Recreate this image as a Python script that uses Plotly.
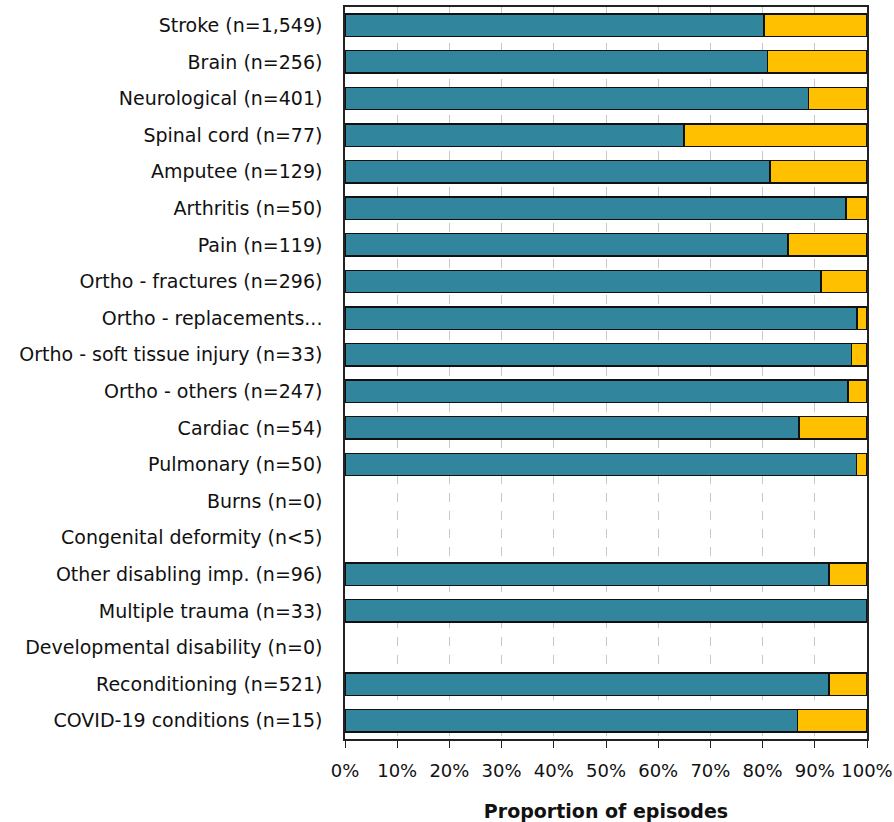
import plotly.graph_objects as go

categories = [
    "Stroke (n=1,549)", "Brain (n=256)", "Neurological (n=401)", "Spinal cord (n=77)",
    "Amputee (n=129)", "Arthritis (n=50)", "Pain (n=119)", "Ortho - fractures (n=296)",
    "Ortho - replacements...", "Ortho - soft tissue injury (n=33)", "Ortho - others (n=247)",
    "Cardiac (n=54)", "Pulmonary (n=50)", "Burns (n=0)", "Congenital deformity (n<5)",
    "Other disabling imp. (n=96)", "Multiple trauma (n=33)", "Developmental disability (n=0)",
    "Reconditioning (n=521)", "COVID-19 conditions (n=15)",
]
share_a = [80.3, 80.9, 88.8, 64.9, 81.4, 96.0, 84.9, 91.2, 98.1, 97.0, 96.4,
           87.0, 98.0, None, None, 92.7, 100.0, None, 92.7, 86.7]
share_b = [19.7, 19.1, 11.2, 35.1, 18.6, 4.0, 15.1, 8.8, 1.9, 3.0, 3.6,
           13.0, 2.0, None, None, 7.3, 0.0, None, 7.3, 13.3]
tick_vals = [0, 10, 20, 30, 40, 50, 60, 70, 80, 90, 100]
tick_text = [f"{v}%" for v in tick_vals]

FONT = "DejaVu Sans"

fig = go.Figure()
fig.add_trace(go.Bar(y=categories, x=share_a, orientation="h", name="Group A",
                     marker=dict(color="#31859C", line=dict(color="#111111", width=1.5))))
fig.add_trace(go.Bar(y=categories, x=share_b, orientation="h", name="Group B",
                     marker=dict(color="#FFC000", line=dict(color="#111111", width=1.5))))

fig.update_layout(
    barmode="stack",
    bargap=0.39,
    width=894, height=822,
    margin=dict(l=345, r=27, t=7, b=83),
    paper_bgcolor="white", plot_bgcolor="white",
    showlegend=False,
    font=dict(family=FONT, size=18, color="#111111"),
)
fig.update_xaxes(
    automargin=False,
    range=[0, 100], tickvals=tick_vals, ticktext=tick_text,
    showgrid=True, gridcolor="#c8c8c8", griddash="dash", gridwidth=1,
    showline=True, linecolor="#222222", linewidth=1.5, mirror=True,
    ticks="outside", ticklen=7, tickcolor="#222222",
    tickfont=dict(family=FONT, size=18), ticklabelstandoff=8,
    title=dict(text="<b>Proportion of episodes</b>", font=dict(family=FONT, size=19), standoff=24),
    zeroline=False,
)
fig.update_yaxes(
    automargin=False,
    autorange="reversed", showgrid=False,
    showline=True, linecolor="#222222", linewidth=1.5, mirror=True,
    ticks="", tickfont=dict(family=FONT, size=19), ticklabelstandoff=17,
)

fig.write_html("out.html", config={"displayModeBar": False},
               post_script="document.body.style.margin='0';")
